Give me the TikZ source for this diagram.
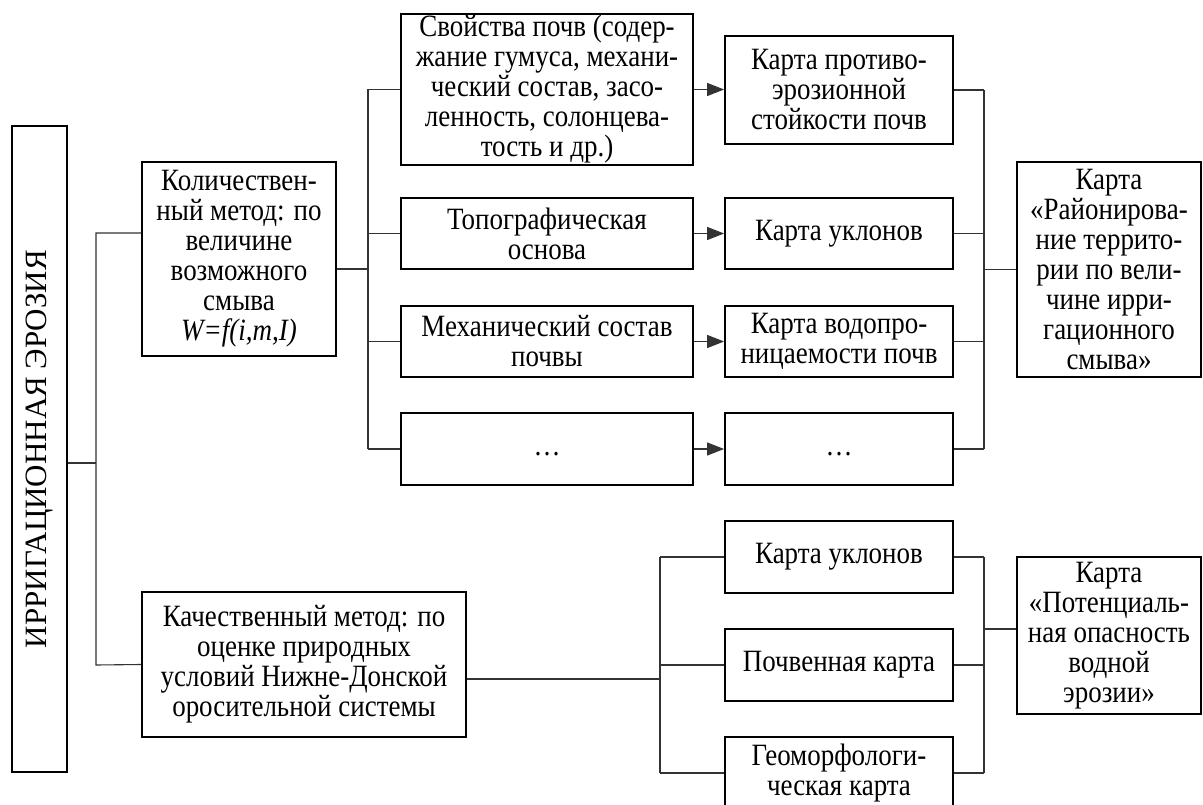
\documentclass[tikz,border=0pt]{standalone}
\usepackage{fontspec}
\setmainfont{Liberation Serif}
\newfontfamily\narrowserif{Liberation Serif}[FakeStretch=0.87]
\usetikzlibrary{arrows.meta,calc}

\begin{document}
\begin{tikzpicture}[x=1pt,y=-1pt,
  box/.style={draw=black, line width=1.8pt, inner sep=0pt, align=center,
    font=\narrowserif\fontsize{31}{30}\selectfont},
  colA/.style={box, minimum width=292pt},
  colB/.style={box, minimum width=228pt},
  link/.style={draw=black!80, line width=1.1pt},
  feed/.style={link, -{Triangle[length=17pt,width=13pt]}}
]
\useasboundingbox (0,0) rectangle (1203,805);
\clip (0,0) rectangle (1203,805);

% root
\node[box, font=\fontsize{31}{30}\selectfont, minimum width=646pt, minimum height=55pt,
  rotate=90] (main) at (39.5,449) {ИРРИГАЦИОННАЯ ЭРОЗИЯ};

% two methods
\node[box, minimum width=194pt, minimum height=194pt] (quant) at (239,259)
  {Количествен-\\ный метод: по\\величине\\возможного\\смыва\\\textit{W=f(i,m,I)}};
\node[box, minimum width=324pt, minimum height=145pt] (qual) at (304,664.5)
  {Качественный метод: по\\оценке природных\\условий Нижне-Донской\\оросительной системы};

% source data
\node[colA, minimum height=151pt] (a1) at (547,89.5)
  {Свойства почв (содер-\\жание гумуса, механи-\\ческий состав, засо-\\ленность, солонцева-\\тость и др.)};
\node[colA, minimum height=71pt] (a2) at (547,233.5) {Топографическая\\основа};
\node[colA, minimum height=71pt] (a3) at (547,341.5) {Механический состав\\почвы};
\node[colA, minimum height=72pt] (a4) at (547,449) {\strut…};

% derived maps
\node[colB, minimum height=108pt] (b1) at (839,90) {Карта противо-\\эрозионной\\стойкости почв};
\node[colB, minimum height=71pt] (b2) at (839,233.5) {Карта уклонов};
\node[colB, minimum height=71pt] (b3) at (839,341.5) {Карта водопро-\\ницаемости почв};
\node[colB, minimum height=72pt] (b4) at (839,449) {\strut…};

\node[colB, minimum height=72pt] (c1) at (839,557) {Карта уклонов};
\node[colB, minimum height=72pt] (c2) at (839,665) {Почвенная карта};
\node[colB, minimum height=72pt] (c3) at (839,773) {Геоморфологи-\\ческая карта};

% result maps
\node[box, minimum width=184pt, minimum height=215pt] (r1) at (1109,269.5)
  {Карта\\«Районирова-\\ние террито-\\рии по вели-\\чине ирри-\\гационного\\смыва»};
\node[box, minimum width=184pt, minimum height=157pt] (r2) at (1109,635.5)
  {Карта\\«Потенциаль-\\ная опасность\\водной\\эрозии»};

% junction points
\coordinate (m0) at (96,463);
\coordinate (t1) at (96,233);
\coordinate (t2) at (96,665);
\coordinate (q0) at (368,269);
\coordinate (s0) at (984,269.5);
\coordinate (l0) at (660,679);
\coordinate (s1) at (984,629);

% root to methods
\draw[link] (main.south |- m0) -- (m0);
\draw[link] (quant.west |- t1) -- (t1) -- (t2) -- (qual.west);

% quantitative branch
\draw[link] (quant.east |- q0) -- (q0);
\draw[link] (a1.west -| q0) -- (a4.west -| q0);
\foreach \n in {a1,a2,a3,a4} \draw[link] (\n.west) -- (\n.west -| q0);
\foreach \n/\m in {a1/b1,a2/b2,a3/b3,a4/b4} \draw[feed] (\n.east) -- (\n.east -| \m.west);
\foreach \n in {b1,b2,b3,b4} \draw[link] (\n.east) -- (\n.east -| s0);
\draw[link] (b1.east -| s0) -- (b4.east -| s0);
\draw[link] (s0) -- (r1.west);

% qualitative branch
\draw[link] (qual.east |- l0) -- (l0);
\draw[link] (c1.west -| l0) -- (c3.west -| l0);
\foreach \n in {c1,c2,c3} \draw[link] (\n.west) -- (\n.west -| l0);
\foreach \n in {c1,c2,c3} \draw[link] (\n.east) -- (\n.east -| s1);
\draw[link] (c1.east -| s1) -- (c3.east -| s1);
\draw[link] (s1) -- (r2.west |- s1);
\end{tikzpicture}
\end{document}
